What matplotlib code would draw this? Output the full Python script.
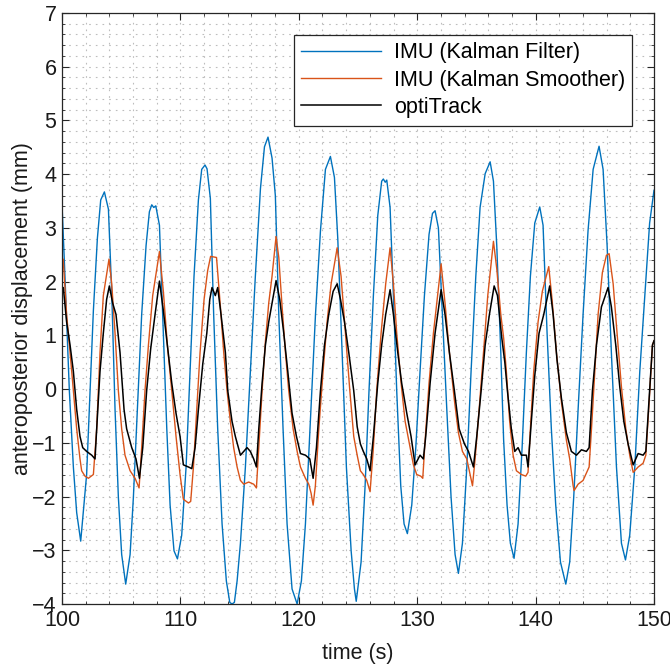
import numpy as np
import matplotlib
matplotlib.use("Agg")
import matplotlib.pyplot as plt
from matplotlib.ticker import MultipleLocator

# ---------------- data ----------------
kf_t = [100.0, 100.25, 100.62, 100.96, 101.24, 101.58,
        102.08, 102.37, 102.65, 102.99, 103.27, 103.58,
        103.92, 104.2, 104.48, 104.76, 105.04, 105.38,
        105.75, 106.03, 106.37, 106.73, 107.1, 107.38, 107.58, 107.75, 107.92,
        108.23, 108.56, 108.85, 109.13, 109.46, 109.75,
        110.11, 110.48, 110.82, 111.15, 111.52, 111.8, 112.08,
        112.25, 112.53, 112.81, 113.15, 113.52, 113.88, 114.17, 114.36, 114.56,
        114.79, 115.07, 115.49, 115.91, 116.33, 116.76, 117.1, 117.4,
        117.74, 118.02, 118.31, 118.67, 119.01, 119.43, 119.86,
        120.22, 120.56, 120.98, 121.41, 121.83, 122.25, 122.67,
        123.01, 123.29, 123.66, 124.02, 124.42, 124.7, 124.85,
        125.26, 125.6, 125.93, 126.3, 126.67, 127.0, 127.14, 127.3, 127.43,
        127.71, 127.99, 128.27, 128.61, 128.89, 129.17,
        129.54, 129.88, 130.24, 130.61, 131.0, 131.29, 131.51,
        131.79, 132.13, 132.5, 132.86, 133.2, 133.48,
        133.82, 134.19, 134.55, 134.95, 135.31, 135.74, 136.16,
        136.44, 136.72, 137.06, 137.3, 137.59, 137.87, 138.18,
        138.52, 138.86, 139.22, 139.56, 139.93, 140.35,
        140.63, 140.97, 141.33, 141.7, 142.1, 142.55,
        142.88, 143.22, 143.59, 144.01, 144.43, 144.86, 145.36,
        145.7, 146.04, 146.4, 146.83, 147.25, 147.59,
        147.95, 148.38, 148.8, 149.22, 149.63, 150.0]
kf_v = [3.45, 2.10, -0.03, -1.45, -2.30, -2.83,
        -1.59, -0.03, 1.46, 2.81, 3.52, 3.67,
        3.35, 1.80, -0.38, -2.01, -3.08, -3.63,
        -3.08, -2.01, -0.38, 1.39, 2.67, 3.30, 3.43, 3.38, 3.41,
        3.05, 1.04, -0.74, -2.16, -3.01, -3.16,
        -2.72, -1.45, 0.33, 2.10, 3.52, 4.09, 4.17,
        4.10, 3.55, 1.39, -0.74, -2.51, -3.57, -3.97, -4.0, -3.97,
        -3.57, -2.87, -1.45, 0.33, 2.10, 3.73, 4.51, 4.69,
        4.30, 3.60, 1.39, -0.74, -2.51, -3.72, -4.0,
        -3.57, -2.51, -0.60, 1.39, 2.95, 4.09, 4.33,
        3.94, 2.81, 0.68, -1.45, -3.01, -3.72, -3.95,
        -3.22, -1.80, -0.03, 1.74, 3.23, 3.87, 3.91, 3.85, 3.89,
        3.38, 1.74, -0.03, -1.80, -2.51, -2.69,
        -2.16, -1.09, 0.33, 1.74, 2.88, 3.27, 3.32,
        3.00, 1.39, -0.38, -2.01, -3.08, -3.43,
        -2.87, -1.45, 0.33, 2.10, 3.38, 4.01, 4.23,
        3.87, 2.67, 0.68, -0.95, -2.16, -2.87, -3.15,
        -2.51, -1.09, 0.68, 2.10, 3.09, 3.39,
        3.05, 1.04, -0.74, -2.16, -3.22, -3.63,
        -3.22, -2.01, -0.38, 1.39, 2.95, 4.09, 4.52,
        4.09, 2.67, 0.68, -1.45, -2.87, -3.18,
        -2.72, -1.45, 0.33, 1.74, 3.09, 3.70]

ks_t = [100.0, 100.1, 100.39, 100.82, 101.24, 101.52, 101.66, 101.94, 102.23, 102.65,
        102.93, 103.21, 103.49, 103.97,
        104.2, 104.48, 104.76, 105.04, 105.32, 105.75, 106.17, 106.51,
        106.73, 107.01, 107.3, 107.66, 108.23,
        108.56, 108.9, 109.27, 109.63, 109.97, 110.25, 110.68, 110.87,
        111.1, 111.38, 111.66, 112.0, 112.3, 112.55, 113.05,
        113.38, 113.66, 113.94, 114.22, 114.5, 114.79, 115.07, 115.35, 115.77, 116.19, 116.42,
        116.62, 116.9, 117.18, 117.46, 117.74, 118.08,
        118.31, 118.59, 118.87, 119.15, 119.52, 119.86, 120.14, 120.56, 120.84, 121.04, 121.21,
        121.4, 121.69, 122.05, 122.39, 122.73, 123.24,
        123.57, 123.94, 124.31, 124.64, 124.93, 125.2, 125.45, 125.74, 126.02,
        126.3, 126.58, 126.95, 127.34, 127.71,
        127.99, 128.27, 128.64, 128.98, 129.4, 129.68, 129.96, 130.3, 130.47,
        130.67, 131.0, 131.37, 132.02,
        132.35, 132.72, 133.12, 133.48, 133.82, 134.19, 134.47, 134.67,
        134.89, 135.23, 135.6, 135.96, 136.44,
        136.72, 137.06, 137.3, 137.53, 137.81, 138.1, 138.38, 138.8, 139.17, 139.36,
        139.56, 139.84, 140.21, 140.57, 141.11,
        141.39, 141.76, 142.18, 142.6, 142.88, 143.17, 143.25, 143.59, 144.01, 144.52,
        144.72, 145.0, 145.28, 145.64, 145.98, 146.21,
        146.55, 146.88, 147.25, 147.62, 147.95, 148.24, 148.66, 149.08, 149.31,
        149.59, 149.87, 150.0]
ks_v = [2.38, 2.42, 1.39, 0.33, -0.74, -1.30, -1.52, -1.62, -1.66, -1.59,
        -0.74, 0.68, 1.74, 2.42,
        1.96, 1.04, -0.03, -0.74, -1.23, -1.52, -1.66, -1.84,
        -1.09, -0.03, 0.82, 1.74, 2.56,
        1.82, 0.82, -0.03, -0.88, -1.59, -2.05, -2.12, -2.09,
        -1.45, -0.38, 0.68, 1.67, 2.20, 2.47, 2.45,
        1.53, 0.68, -0.03, -0.60, -1.09, -1.45, -1.70, -1.77, -1.73, -1.77, -1.84,
        -1.09, -0.03, 0.89, 1.60, 2.10, 2.84,
        2.45, 1.53, 0.68, -0.03, -0.74, -1.16, -1.45, -1.66, -1.77, -1.94, -2.16,
        -1.80, -0.74, 0.33, 1.25, 1.96, 2.63,
        2.10, 1.04, -0.03, -0.88, -1.23, -1.52, -1.59, -1.70, -1.91,
        -1.09, -0.03, 1.04, 1.96, 2.63,
        1.96, 1.04, 0.11, -0.60, -1.09, -1.41, -1.59, -1.62, -1.66,
        -0.95, 0.11, 1.04, 2.33,
        1.60, 0.68, -0.17, -0.81, -1.16, -1.30, -1.59, -1.80,
        -1.30, -0.38, 0.68, 1.74, 2.75,
        2.24, 1.39, 0.95, 0.33, -0.60, -1.23, -1.52, -1.59, -1.62, -1.55,
        -0.74, 0.33, 1.25, 1.82, 2.28,
        1.67, 0.68, -0.24, -0.95, -1.30, -1.80, -1.89, -1.77, -1.70, -1.45,
        -0.74, 0.33, 1.39, 2.17, 2.49, 2.52,
        1.96, 1.04, 0.04, -0.74, -1.23, -1.55, -1.45, -1.38, -1.23,
        -0.24, 0.82, 0.90]

ot_t = [100.0, 100.11, 100.39, 100.68, 100.96, 101.24, 101.52, 101.75, 102.08, 102.51, 102.79,
        102.93, 103.21, 103.49, 103.77, 104.0,
        104.28, 104.56, 104.9, 105.24, 105.46, 105.89, 106.25, 106.54,
        106.82, 107.15, 107.49, 107.86, 108.23,
        108.56, 108.9, 109.27, 109.63, 109.97, 110.25, 110.68, 110.96,
        111.24, 111.52, 111.89, 112.23, 112.48, 112.67, 112.95, 113.15,
        113.43, 113.8, 114.0, 114.36, 114.64, 115.07, 115.35, 115.63, 115.91, 116.19, 116.42,
        116.62, 116.9, 117.18, 117.46, 117.74, 118.08,
        118.39, 118.73, 119.07, 119.43, 119.8, 120.14, 120.56, 120.93, 121.21,
        121.49, 121.83, 122.17, 122.53, 122.9, 123.24,
        123.52, 123.86, 124.22, 124.64, 124.93, 125.2, 125.45, 125.74, 126.02,
        126.3, 126.67, 127.0, 127.34, 127.71,
        127.99, 128.36, 128.69, 129.12, 129.48, 129.82, 130.24, 130.52,
        130.72, 131.09, 131.51, 132.02,
        132.35, 132.72, 133.14, 133.54, 133.99, 134.33, 134.75,
        135.03, 135.4, 135.74, 136.1, 136.5,
        136.78, 137.14, 137.4, 137.62, 137.95, 138.24, 138.52, 138.8, 139.22, 139.36,
        139.64, 139.93, 140.29, 140.69, 141.19,
        141.48, 141.81, 142.18, 142.6, 143.02, 143.45, 143.87, 144.29, 144.52,
        144.8, 145.14, 145.56, 146.12,
        146.4, 146.77, 147.11, 147.45, 147.81, 148.24, 148.66, 149.08, 149.31,
        149.59, 149.87, 150.0]
ot_v = [1.85, 1.89, 1.25, 0.82, 0.33, -0.38, -0.88, -1.09, -1.16, -1.23, -1.30,
        -0.74, 0.33, 1.04, 1.67, 1.92,
        1.60, 1.39, 0.68, -0.38, -0.74, -1.09, -1.30, -1.66,
        -1.09, -0.03, 0.75, 1.39, 2.01,
        1.46, 0.82, 0.11, -0.45, -0.88, -1.41, -1.45, -1.48,
        -1.09, -0.38, 0.47, 1.04, 1.67, 1.89, 1.74, 1.89,
        1.39, 0.68, -0.03, -0.60, -0.88, -1.23, -1.16, -1.09, -1.16, -1.30, -1.45,
        -0.74, 0.11, 0.82, 1.25, 1.60, 2.02,
        1.67, 1.04, 0.33, -0.45, -0.88, -1.20, -1.23, -1.30, -1.66,
        -1.09, -0.03, 0.82, 1.39, 1.82, 1.96,
        1.67, 1.25, 0.68, -0.03, -0.70, -1.02, -1.16, -1.30, -1.52,
        -0.88, 0.11, 0.82, 1.39, 1.85,
        1.39, 0.68, 0.11, -0.45, -0.88, -1.41, -1.23, -1.30,
        -0.88, 0.11, 1.04, 1.85,
        1.39, 0.68, -0.03, -0.74, -1.02, -1.16, -1.45,
        -0.88, -0.03, 0.82, 1.39, 1.92,
        1.74, 0.96, 0.50, -0.03, -0.74, -1.16, -1.09, -1.23, -1.23, -1.45,
        -0.60, 0.25, 1.04, 1.39, 1.92,
        1.39, 0.54, -0.17, -0.81, -1.16, -1.23, -1.13, -1.16, -1.09,
        -0.03, 0.82, 1.53, 1.89,
        1.53, 0.82, 0.04, -0.60, -1.02, -1.41, -1.20, -1.23, -1.16,
        -0.17, 0.82, 0.90]

series_labels = ["IMU (Kalman Filter)", "IMU (Kalman Smoother)", "optiTrack"]
x_ticks = [100, 110, 120, 130, 140, 150]
y_ticks = [-4, -3, -2, -1, 0, 1, 2, 3, 4, 5, 6, 7]

# ---------------- figure ----------------
plt.rcParams['font.family'] = ['Liberation Sans', 'DejaVu Sans']
fig = plt.figure(figsize=(6.7, 6.65), dpi=100)
ax = fig.add_axes([62/670, 1-604/665, (654-62)/670, (604-13)/665])

ax.plot(kf_t, kf_v, color='#0072BD', lw=1.0, label=series_labels[0])
ax.plot(ks_t, ks_v, color='#D95319', lw=1.0, label=series_labels[1])
ax.plot(ot_t, ot_v, color='black', lw=1.1, label=series_labels[2])

ax.set_xlim(100, 150)
ax.set_ylim(-4, 7)
ax.set_xticks(x_ticks)
ax.set_yticks(y_ticks)
ax.xaxis.set_minor_locator(MultipleLocator(2))
ax.yaxis.set_minor_locator(MultipleLocator(0.2))
ax.grid(which='minor', color='#bdbdbd', lw=0.8, linestyle=(0, (1.5, 4.5)))
ax.grid(which='major', color='#bdbdbd', lw=0.8, linestyle=(0, (1.5, 4.5)))
ax.set_axisbelow(True)

ax.tick_params(which='both', direction='in', top=True, right=True, color='#262626',
               labelsize=15.5, labelcolor='#1a1a1a', pad=4)
ax.tick_params(which='major', length=5, width=0.8)
ax.tick_params(which='minor', length=2.5, width=0.6)
for s in ax.spines.values():
    s.set_color('#262626')
    s.set_linewidth(0.9)

ax.set_xlabel('time (s)', fontsize=15.5, color='#1a1a1a', labelpad=9)
ax.set_ylabel('anteroposterior displacement (mm)', fontsize=15.5, color='#1a1a1a', labelpad=-1)

leg = ax.legend(loc='upper right', fontsize=15.5, frameon=True, fancybox=False,
                handlelength=3.7, handletextpad=0.6, labelspacing=0.3,
                borderpad=0.35, borderaxespad=1.0, framealpha=1)
leg.get_frame().set_edgecolor('#262626')
leg.get_frame().set_linewidth(0.9)

fig.savefig('out.png', dpi=100)
